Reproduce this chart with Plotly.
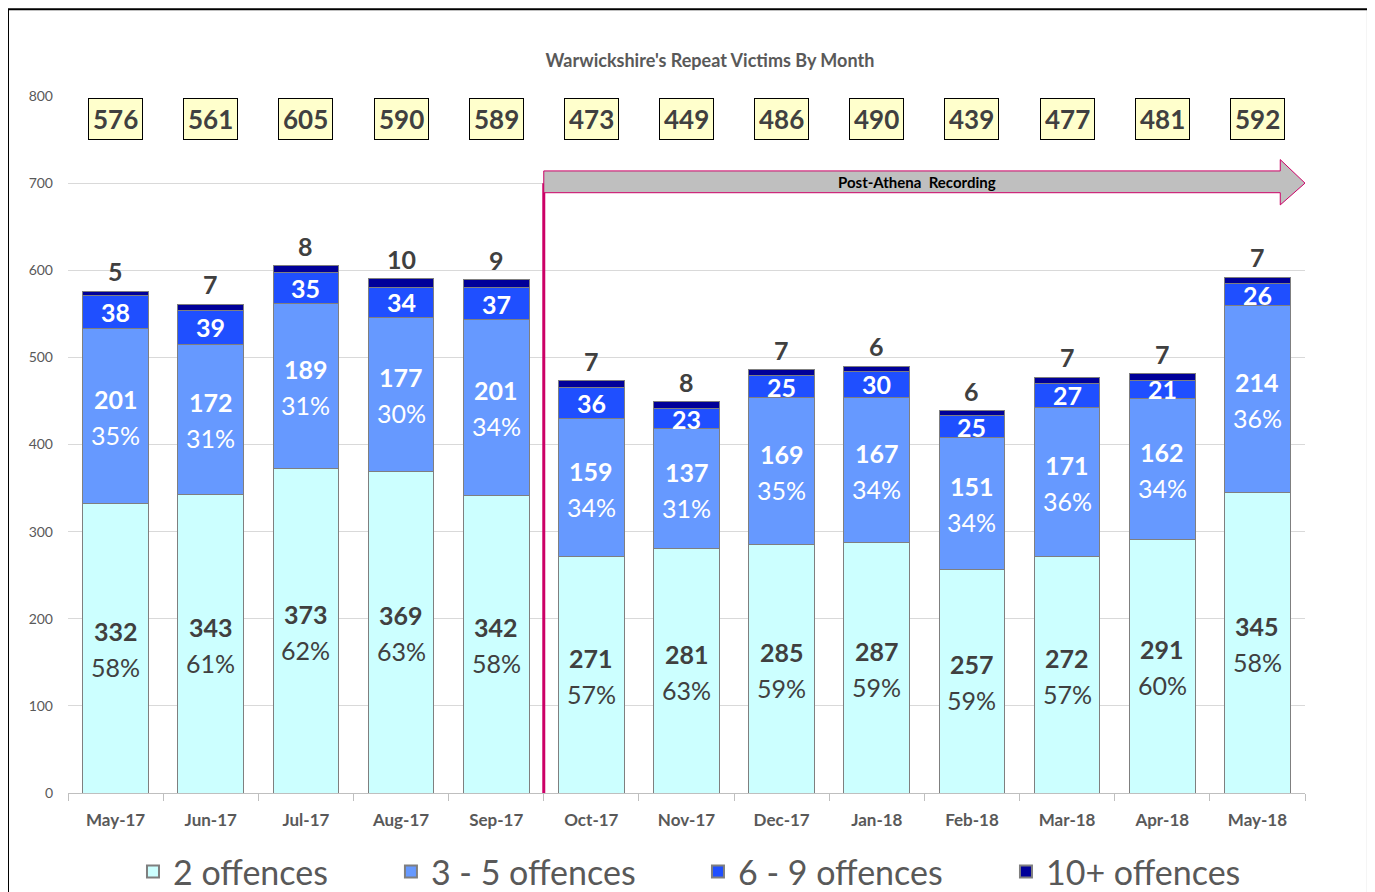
import plotly.graph_objects as go

months = ["May-17", "Jun-17", "Jul-17", "Aug-17", "Sep-17", "Oct-17", "Nov-17",
          "Dec-17", "Jan-18", "Feb-18", "Mar-18", "Apr-18", "May-18"]
two_off = [332, 343, 373, 369, 342, 271, 281, 285, 287, 257, 272, 291, 345]
three_five = [201, 172, 189, 177, 201, 159, 137, 169, 167, 151, 171, 162, 214]
six_nine = [38, 39, 35, 34, 37, 36, 23, 25, 30, 25, 27, 21, 26]
ten_plus = [5, 7, 8, 10, 9, 7, 8, 7, 6, 6, 7, 7, 7]
totals = [576, 561, 605, 590, 589, 473, 449, 486, 490, 439, 477, 481, 592]
pct_two = ["58%", "61%", "62%", "63%", "58%", "57%", "63%", "59%", "59%", "59%", "57%", "60%", "58%"]
pct_three = ["35%", "31%", "31%", "30%", "34%", "34%", "31%", "35%", "34%", "34%", "36%", "34%", "36%"]

FONT = "Lato"
GREY = "#404040"
AX = "#595959"
PINK = "#CC0066"

fig = go.Figure()
series = [
    ("2 offences", two_off, "#CCFFFF", "legend"),
    ("3 - 5 offences", three_five, "#6699FF", "legend2"),
    ("6 - 9 offences", six_nine, "#1F4FFF", "legend3"),
    ("10+ offences", ten_plus, "#000099", "legend4"),
]
for name, vals, col, lg in series:
    fig.add_trace(go.Bar(
        x=months, y=vals, name=name, width=0.69, legend=lg,
        marker=dict(color=col, line=dict(color="#7F7F7F", width=1)),
        hoverinfo="x+y+name",
    ))

ann = []
for i, m in enumerate(months):
    mid = two_off[i] / 2
    ann.append(dict(x=m, y=mid, text="<b>%d</b>" % two_off[i], showarrow=False,
                    yshift=17, font=dict(size=25, color=GREY, family=FONT)))
    ann.append(dict(x=m, y=mid, text=pct_two[i], showarrow=False,
                    yshift=-19, font=dict(size=25, color=GREY, family=FONT)))
    mid = two_off[i] + three_five[i] / 2
    ann.append(dict(x=m, y=mid, text="<b>%d</b>" % three_five[i], showarrow=False,
                    yshift=17, font=dict(size=25, color="white", family=FONT)))
    ann.append(dict(x=m, y=mid, text=pct_three[i], showarrow=False,
                    yshift=-19, font=dict(size=25, color="white", family=FONT)))
    mid = two_off[i] + three_five[i] + six_nine[i] / 2
    ann.append(dict(x=m, y=mid, text="<b>%d</b>" % six_nine[i], showarrow=False,
                    yshift=0, font=dict(size=25, color="white", family=FONT)))
    ann.append(dict(x=m, y=totals[i], text="<b>%d</b>" % ten_plus[i], showarrow=False,
                    yanchor="bottom", yshift=3, font=dict(size=25, color=GREY, family=FONT)))
    ann.append(dict(x=m, y=774, text="<b>%d</b>" % totals[i], showarrow=False,
                    bgcolor="#FFFFCC", bordercolor="#000000", borderwidth=1, borderpad=4,
                    font=dict(size=26, color=GREY, family=FONT)))

ann.append(dict(x=8.42, y=701, xref="x", yref="y", text="<b>Post-Athena  Recording</b>",
                showarrow=False, font=dict(size=15, color="#000000", family=FONT)))

shapes = [
    dict(type="line", xref="x", yref="y", x0=4.5, x1=4.5, y0=-12, y1=700,
         line=dict(color=PINK, width=3)),
    dict(type="path", xref="x", yref="y",
         path="M 4.5,689 L 12.24,689 L 12.24,675 L 12.5,700 L 12.24,727 L 12.24,714 L 4.5,714 Z",
         fillcolor="#BFBFBF", line=dict(color=PINK, width=1)),
    dict(type="rect", xref="paper", yref="paper", x0=-0.0485, x1=1.0509, y0=-0.18, y1=1.1246,
         line=dict(color="#000000", width=2), fillcolor="rgba(0,0,0,0)", layer="below"),
]


def leg(xpos):
    return dict(orientation="h", xref="container", yref="container",
                x=xpos, xanchor="left", y=1 - 864 / 892, yanchor="middle",
                font=dict(size=34, color=AX, family=FONT),
                itemwidth=30, itemsizing="constant", bgcolor="rgba(0,0,0,0)")


fig.update_layout(
    width=1375, height=892,
    barmode="stack", bargap=0.31,
    plot_bgcolor="white", paper_bgcolor="white",
    margin=dict(l=60, r=78, t=88, b=107, autoexpand=False),
    font=dict(family=FONT, color=AX),
    title=dict(text="<b>Warwickshire's Repeat Victims By Month</b>", xref="container",
               yref="container", x=0.5105, xanchor="center", y=1 - 53 / 892, yanchor="middle",
               font=dict(size=18, color=AX, family=FONT)),
    showlegend=True,
    legend=leg(0.0909),
    legend2=leg(0.2785),
    legend3=leg(0.5018),
    legend4=leg(0.7258),
    annotations=ann,
    shapes=shapes,
    xaxis=dict(type="category", range=[-0.5, 12.5], showline=True, linecolor="#BFBFBF",
               linewidth=1, ticks="outside", tickson="boundaries", tickcolor="#BFBFBF",
               ticklen=7, ticklabelstandoff=12,
               tickfont=dict(size=17, color=AX, family=FONT, weight="bold"),
               showgrid=False),
    yaxis=dict(range=[0, 800], dtick=100, showgrid=True, gridcolor="#D9D9D9", gridwidth=1,
               zeroline=False, tickfont=dict(size=14, color=AX, family=FONT),
               ticklabelstandoff=14, ticks=""),
    yaxis2=dict(range=[0, 800], dtick=100, overlaying="y", side="right", showgrid=False,
                zeroline=False, tickfont=dict(size=14, color=AX, family=FONT),
                ticklabelstandoff=14, ticks=""),
)

fig.write_html("out.html")
